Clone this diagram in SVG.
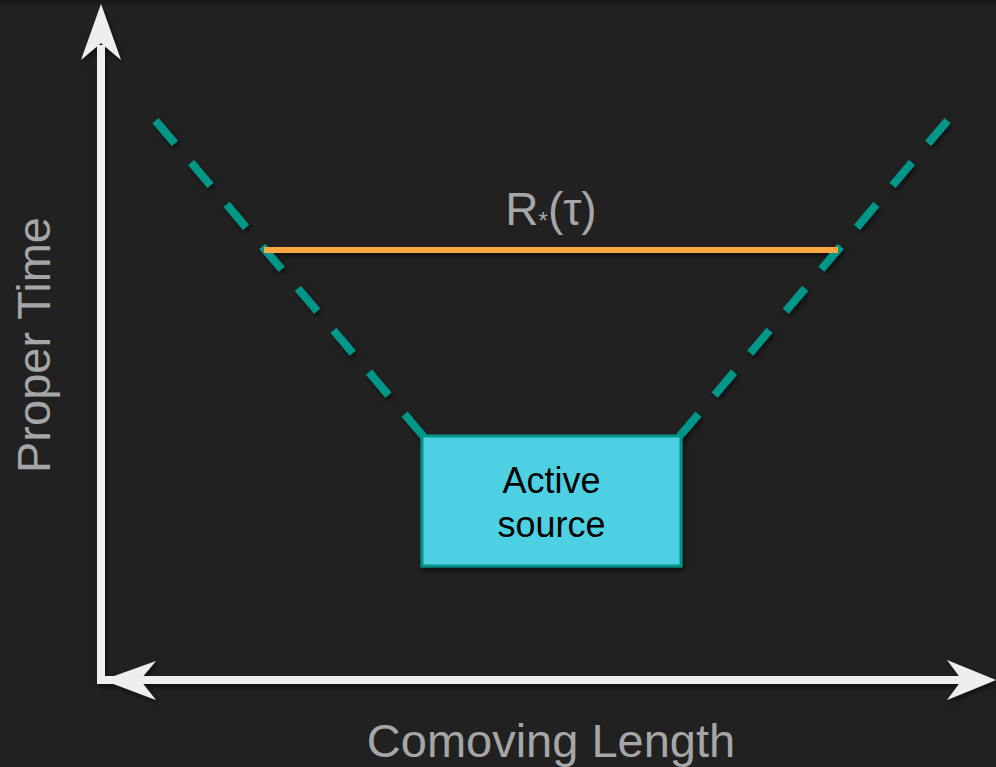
<svg xmlns="http://www.w3.org/2000/svg" width="996" height="767" viewBox="0 0 996 767">
  <defs>
    <filter id="shadow" x="-20%" y="-20%" width="140%" height="140%">
      <feDropShadow dx="2" dy="3" stdDeviation="2.5" flood-color="#000" flood-opacity="0.55"/>
    </filter>
    <linearGradient id="topband" x1="0" y1="0" x2="0" y2="1">
      <stop offset="0" stop-color="#141414"/>
      <stop offset="1" stop-color="#212121"/>
    </linearGradient>
  </defs>
  <style>
    .axis { stroke: #eeeeee; stroke-width: 8; fill: none; }
    .head { fill: #eeeeee; }
    .cone { stroke: #009688; stroke-width: 8; fill: none; stroke-dasharray: 30 25; }
    .radius { stroke: #ffa83f; stroke-width: 6; }
    .label { font-family: "Liberation Sans", Arial, sans-serif; fill: #a6a6a6; }
    .nodetext { font-family: "Liberation Sans", Arial, sans-serif; fill: #000000; font-size: 36px; text-anchor: middle; }
  </style>
  <rect x="0" y="0" width="996" height="767" fill="#212121"/>
  <rect x="0" y="0" width="996" height="5" fill="url(#topband)"/>

  <g id="connectors" filter="url(#shadow)">
    <path id="cone-left" class="cone" d="M424,437 L155,120"/>
    <path id="cone-right" class="cone" d="M679,437 L948,120"/>
    <line id="radius-line" class="radius" x1="264" y1="250" x2="838" y2="250"/>
  </g>

  <g id="axes" filter="url(#shadow)">
    <line class="axis" x1="101" y1="45" x2="101" y2="684"/>
    <line class="axis" x1="97" y1="680" x2="964" y2="680"/>
    <polygon class="head" points="101,4 121,60 101,43 81,60"/>
    <polygon class="head" points="103,680 156,661 140,680 156,700"/>
    <polygon class="head" points="996,680 947,660 962,680 947,700"/>
  </g>

  <g id="node-active-source">
    <rect x="422" y="436" width="259" height="130" fill="#4dd0e1" stroke="#009688" stroke-width="3" filter="url(#shadow)"/>
    <text class="nodetext" x="551.5" y="493">Active</text>
    <text class="nodetext" x="551.5" y="537">source</text>
  </g>

  <g id="label-radius">
    <text class="label" x="551" y="225" font-size="46" text-anchor="middle">R<tspan font-size="24" dy="4">*</tspan><tspan dy="-4">(τ)</tspan></text>
  </g>

  <g id="label-proper-time">
    <text class="label" transform="translate(50,345) rotate(-90)" font-size="47" text-anchor="middle">Proper Time</text>
  </g>

  <g id="label-comoving-length">
    <text class="label" x="551" y="757" font-size="47" text-anchor="middle">Comoving Length</text>
  </g>
</svg>
